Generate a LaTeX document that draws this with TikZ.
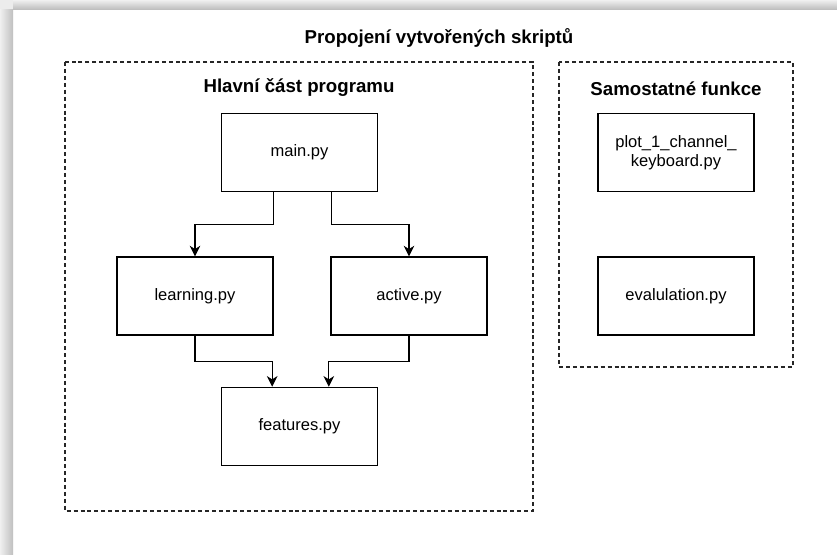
\documentclass[tikz,border=0pt]{standalone}
\usepackage{fontspec}
\setmainfont{Liberation Sans}
\usetikzlibrary{arrows.meta,calc}
\begin{document}
\begin{tikzpicture}[x=0.75pt,y=-0.75pt,
  filebox/.style={draw=black,line width=0.9pt,minimum width=117pt,minimum height=58.5pt,inner sep=0pt,align=center,font=\fontsize{12.4}{14}\selectfont},
  groupbox/.style={draw=black!85,line width=0.9pt,dash pattern=on 3pt off 2.2pt},
  heading/.style={font=\fontsize{14}{16}\selectfont\bfseries,inner sep=0pt},
  arr/.style={line width=0.9pt,-{Stealth[length=8pt,width=8pt,inset=2.5pt]}}]
\useasboundingbox (0,0) rectangle (837,554);
\fill[white] (0,0) rectangle (837,554);
% page shadow
\shade[left color=gray!12, right color=gray!50] (0,9) rectangle (13,554);
\shade[top color=gray!12, bottom color=gray!50] (13,0) rectangle (837,9);
\fill[gray!15] (0,0) rectangle (13,9);
% groups
\draw[groupbox] (65,62) rectangle (533,511);
\draw[groupbox] (559,62) rectangle (793,367);
\node[heading] (title) at (439,38) {Propojení vytvořených skriptů};
\node[heading] (hmain) at (299,88) {Hlavní část programu};
\node[heading] (hside) at (676,89) {Samostatné funkce};
% nodes
\node[filebox] (main) at (299.5,152.5) {main.py};
\node[filebox] (learn) at (195,296) {learning.py};
\node[filebox] (active) at (409,296) {active.py};
\node[filebox] (feat) at (299.5,426.3) {features.py};
\node[filebox] (plot) at (676,152.5) {plot\_1\_channel\_\\keyboard.py};
\node[filebox] (eval) at (676,296) {evalulation.py};
% connectors
\draw[arr] ([xshift=-19.5pt]main.south) -- ++(0,32) -| (learn.north);
\draw[arr] ([xshift=24pt]main.south) -- ++(0,32) -| (active.north);
\draw[arr] (learn.south) -- ++(0,26) -| ([xshift=-20.5pt]feat.north);
\draw[arr] (active.south) -- ++(0,26) -| ([xshift=22pt]feat.north);
\end{tikzpicture}
\end{document}
